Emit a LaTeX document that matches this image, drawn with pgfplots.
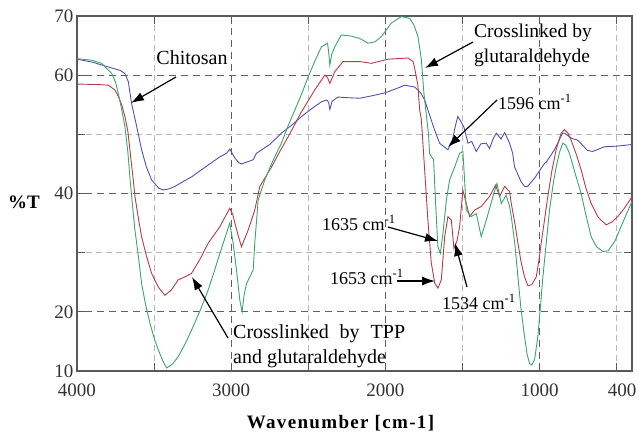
\documentclass[border=0pt]{standalone}
\usepackage{pgfplots}
\pgfplotsset{compat=1.18}
\usepackage{fontspec}
\usepackage{calc}
\setmainfont{Liberation Serif}
\usetikzlibrary{arrows.meta}
\definecolor{cblue}{RGB}{80,80,180}
\definecolor{cred}{RGB}{180,60,70}
\definecolor{cgreen}{RGB}{60,165,105}
\newcommand\fs{\fontsize{19bp}{23bp}\selectfont}
\begin{document}
\begin{tikzpicture}[x=1bp,y=1bp]
\path[use as bounding box] (-77,-64) rectangle (562,371);
\begin{axis}[
  at={(0,0)}, anchor=south west,
  scale only axis, width=555bp, height=355bp,
  x dir=reverse, xmin=400, xmax=4000, ymin=10, ymax=70,
  xtick={1000,2000,3000,4000},
  minor xtick={500,1500,2500,3500},
  extra x ticks={400}, extra x tick labels={400},
  extra x tick style={grid=none, major tick length=0pt, xticklabel style={xshift=-10bp}},
  ytick={10,20,40,60,70},
  minor ytick={30,50},
  grid=both,
  major grid style={black!62, line width=0.8bp, dash pattern=on 7bp off 5bp},
  minor grid style={black!28, line width=0.8bp, dash pattern=on 6bp off 4bp},
  axis line style={black!65, line width=1.1bp},
  tick style={black!65, line width=1bp},
  major tick length=8bp, minor tick length=8bp,
  tick align=inside,
  /pgf/number format/assume math mode=true,
  /pgf/number format/1000 sep={},
  tick label style={font=\fs, text=black!80},
  xticklabel style={yshift=-9bp},
  xlabel={\textbf{\addfontfeature{LetterSpace=7}Wavenumber [cm-1]}},
  xlabel style={at={(axis description cs:0.476,-0.146)}, anchor=center, font=\fontsize{19bp}{23bp}\selectfont},
  ylabel={\textbf{\%T}},
  ylabel style={at={(axis description cs:-0.0955,0.476)}, anchor=center, rotate=-90, font=\fontsize{19bp}{23bp}\selectfont},
  clip=true,
]
% Chitosan
\addplot[cblue, line width=0.9bp] table {
4000 62.7
3900 62.2
3800 61.4
3720 60.8
3690 60.3
3667 58.9
3646 55.2
3610 51.0
3581 47.4
3550 44.5
3516 42.3
3470 40.9
3441 40.6
3400 40.8
3365 41.2
3300 42.2
3257 42.8
3150 44.8
3073 46.2
3030 46.8
3009 47.5
2976 46.0
2950 45.2
2933 45.0
2857 45.7
2836 46.8
2749 48.3
2674 50.2
2600 51.7
2544 53.0
2480 54.3
2414 55.5
2380 55.8
2368 55.4
2360 54.2
2345 55.6
2307 56.3
2250 56.2
2166 56.1
2090 56.5
2004 57.0
1940 57.6
1875 58.3
1810 58.0
1770 57.0
1745 55.8
1702 52.4
1680 50.7
1648 48.5
1594 47.4
1565 49.0
1545 51.5
1530 53.0
1515 52.4
1490 51.2
1464 48.5
1440 48.8
1410 47.1
1380 48.4
1345 48.5
1324 47.6
1300 49.3
1280 50.2
1250 49.2
1226 50.3
1194 48.5
1174 46.8
1162 44.5
1120 42.0
1097 41.2
1077 41.2
1032 42.6
967 45.1
956 45.3
903 47.4
850 50.2
838 50.2
790 49.3
751 49.0
690 47.3
656 47.1
579 47.9
500 48.0
427 48.2
400 48.3
};
% Crosslinked by TPP and glutaraldehyde
\addplot[cred, line width=0.9bp] table {
4000 58.5
3850 58.4
3797 58.3
3754 57.5
3732 56.4
3710 55.0
3689 53.0
3670 50.5
3657 47.4
3640 43.5
3624 39.5
3600 35.5
3581 32.7
3550 29.5
3516 26.5
3473 24.2
3430 22.8
3387 23.7
3344 25.4
3300 25.9
3257 26.5
3200 29.0
3149 31.6
3073 34.4
3030 36.5
3009 37.5
2990 36.5
2976 35.0
2950 32.5
2933 31.0
2910 32.5
2890 33.8
2847 37.2
2814 41.2
2738 44.5
2680 47.3
2630 49.6
2544 53.8
2458 57.5
2393 60.0
2375 59.6
2360 58.6
2340 59.8
2328 60.6
2274 62.3
2166 62.3
2090 62.0
1983 62.7
1853 62.9
1820 62.3
1810 61.2
1790 58.5
1777 54.1
1766 52.4
1745 44.0
1724 35.5
1702 28.3
1680 24.9
1659 24.0
1637 25.4
1615 32.7
1594 36.1
1572 35.5
1555 30.7
1535 32.0
1518 34.4
1497 40.6
1475 38.3
1453 36.1
1421 37.2
1378 37.8
1324 39.5
1285 41.4
1259 39.5
1226 41.2
1194 40.3
1183 38.3
1160 35.0
1140 31.6
1120 28.5
1097 25.9
1075 24.4
1050 24.6
1021 25.9
1005 28.5
989 31.6
965 36.0
946 39.5
920 43.8
892 47.4
860 50.2
838 50.8
815 50.2
795 49.0
760 46.5
730 44.0
700 41.0
665 38.3
620 36.0
568 34.7
530 35.2
492 36.1
450 37.5
406 39.2
400 39.5
};
% Crosslinked by glutaraldehyde
\addplot[cgreen, line width=0.9bp] table {
4000 62.8
3900 62.5
3840 62.0
3775 60.3
3750 58.8
3732 56.9
3710 54.2
3689 51.3
3670 47.0
3657 42.8
3640 38.0
3624 33.8
3600 29.0
3581 24.8
3555 21.2
3527 18.1
3500 15.6
3473 13.6
3445 11.8
3419 10.5
3380 11.2
3344 12.4
3300 14.5
3257 16.9
3200 20.3
3149 23.7
3110 26.8
3073 29.9
3040 32.5
3009 35.0
2987 31.6
2965 27.0
2944 22.0
2929 20.0
2915 23.0
2900 24.8
2857 27.1
2847 31.6
2835 35.5
2825 38.9
2782 42.3
2730 45.5
2674 48.5
2630 51.5
2587 54.1
2540 57.0
2501 59.7
2455 62.5
2414 64.8
2375 65.4
2368 64.0
2360 61.7
2348 63.5
2328 64.8
2285 66.8
2220 66.6
2166 66.2
2112 65.4
2070 65.6
2026 66.5
1990 67.8
1961 68.8
1896 69.9
1842 69.6
1815 68.5
1788 66.5
1766 62.6
1750 57.0
1735 53.5
1720 50.0
1713 46.8
1700 46.2
1687 45.7
1674 38.4
1659 31.0
1643 29.9
1626 33.3
1604 38.9
1583 42.3
1550 44.5
1518 46.8
1497 47.1
1486 42.3
1475 37.2
1443 36.1
1410 36.6
1378 32.7
1345 35.5
1302 39.5
1276 41.7
1248 38.3
1216 39.7
1194 37.8
1183 36.1
1160 31.5
1140 25.9
1120 20.5
1097 15.8
1080 12.8
1065 11.3
1050 11.0
1032 11.9
1011 15.8
995 20.5
978 25.9
955 32.0
935 37.2
912 41.5
892 44.5
870 47.0
849 48.5
830 48.2
806 46.8
770 43.5
730 40.0
700 36.5
665 32.7
630 31.0
590 30.2
555 30.3
510 32.0
471 34.4
440 36.3
406 38.3
400 38.6
};
\end{axis}
\tikzset{arr/.style={-{Latex[length=13bp,width=9bp]}, line width=1.2bp, black}}
% Chitosan
\node[font=\fontsize{20bp}{24bp}\selectfont, anchor=center] at (115,313) {Chitosan};
\draw[arr] (99,294) -- (54,268);
% Crosslinked by glutaraldehyde
\node[font=\fontsize{19.5bp}{25bp}\selectfont, anchor=west, align=left, inner sep=0pt] at (397,325.5) {Crosslinked by\\glutaraldehyde};
\draw[arr] (396,329) -- (348,303);
% 1596
\node[font=\fontsize{18bp}{22bp}\selectfont, anchor=west, inner sep=0pt] at (421,269) {1596 cm\textsuperscript{-1}};
\draw[arr] (420,271) -- (371,224);
% 1635
\node[font=\fontsize{18bp}{22bp}\selectfont, anchor=west, inner sep=0pt] at (245,148) {1635 cm\textsuperscript{-1}};
\draw[arr] (311,144) -- (361,130);
% 1653
\node[font=\fontsize{18bp}{22bp}\selectfont, anchor=west, inner sep=0pt] at (253,94) {1653 cm\textsuperscript{-1}};
\draw[arr] (320,90) -- (358,90);
% 1534
\node[font=\fontsize{18bp}{22bp}\selectfont, anchor=west, inner sep=0pt] at (365,69) {1534 cm\textsuperscript{-1}};
\draw[arr] (390,84) -- (378,128);
% TPP
\node[font=\fontsize{20bp}{25bp}\selectfont, anchor=west, align=left, inner sep=0pt] at (156,25.2) {\makebox[172bp][s]{Crosslinked by TPP}\\and glutaraldehyde};
\draw[arr] (151,33) -- (115,94);
\end{tikzpicture}
\end{document}
